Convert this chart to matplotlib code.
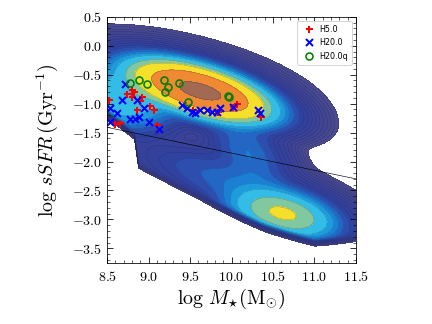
import numpy as np
import matplotlib
matplotlib.use("Agg")
import matplotlib.pyplot as plt
from matplotlib.ticker import MultipleLocator, FuncFormatter

plt.rcParams['mathtext.fontset'] = 'cm'

# ---- density model (Gaussian mixture) ----
comp_x = [9.62, 8.70, 10.20, 10.62, 10.30, 9.50, 9.90]
comp_y = [-0.78, -0.90, -1.85, -2.90, -2.58, -0.60, -2.28]
comp_su = [0.36, 0.30, 0.40, 0.30, 0.48, 0.52, 0.55]
comp_sv = [0.155, 0.24, 0.18, 0.17, 0.20, 0.22, 0.18]
comp_slope = [-0.47, -0.40, -2.50, -0.45, -0.50, -0.40, -0.48]
comp_w = [1.0, 0.03, 0.005, 0.08, 0.003, 0.002, 0.0025]

# lower edge of the distribution (density is cut off below it)
edge_x = [8.5, 8.7, 8.83, 8.88, 9.3, 9.8, 10.4, 11.0, 11.5]
edge_y = [-1.10, -1.35, -1.52, -2.05, -2.35, -2.70, -3.07, -3.35, -3.30]

# contour levels (fraction of peak) and fill colours
dark_levels = list(np.geomspace(5e-6, 1.5e-3, 11))
levels = dark_levels + [3e-3, 5e-3, 8e-3, 0.014, 0.034, 0.07, 0.22, 0.75, 1.2]
dark_cols = ['#4b4b8e', '#48498f', '#454791', '#424592', '#3f4494', '#3c4396',
             '#394298', '#36419a', '#33419d', '#3042a0']
band_cols = ['#2d4eae', '#2466c4', '#1b80d4', '#1e9bdc', '#33bde6',
             '#80c8a0', '#f4e02a', '#f08a32', '#a26a52']
colors = dark_cols + band_cols

# ---- scatter samples ----
h5_x = [8.52, 8.74, 8.80, 8.82, 8.92, 8.90, 9.02, 9.06, 8.86, 8.60, 8.66,
        9.10, 8.80, 10.36, 9.54, 9.84, 10.06, 10.02]
h5_y = [-0.94, -0.83, -0.885, -0.80, -0.885, -0.95, -1.045, -1.11, -1.11,
        -1.35, -1.33, -1.37, -0.77, -1.23, -1.11, -1.14, -1.00, -1.06]

h20_x = [8.72, 8.68, 8.86, 8.54, 8.62, 8.54, 8.78, 8.84, 8.88, 8.94, 9.00,
         9.12, 9.40, 9.46, 9.52, 9.56, 9.62, 9.70, 9.76, 9.82, 9.86, 10.02,
         10.32, 10.34]
h20_y = [-0.66, -0.94, -0.94, -1.08, -1.17, -1.31, -1.26, -1.26, -1.23,
         -1.08, -1.31, -1.43, -1.03, -1.08, -1.14, -1.17, -1.11, -1.11,
         -1.14, -1.14, -1.08, -1.06, -1.11, -1.17]

h20q_x = [8.78, 8.89, 8.98, 9.19, 9.23, 9.20, 9.37, 9.48, 9.96, 9.97]
h20q_y = [-0.64, -0.59, -0.66, -0.60, -0.71, -0.80, -0.645, -0.97, -0.86, -0.88]

cut_x = [8.5, 11.5]
cut_y = [-1.41, -2.30]

xticks = [8.5, 9.0, 9.5, 10.0, 10.5, 11.0, 11.5]
yticks = [0.5, 0.0, -0.5, -1.0, -1.5, -2.0, -2.5, -3.0, -3.5]

# ---- build grid ----
gx = np.linspace(8.5, 11.5, 500)
gy = np.linspace(-3.75, 0.5, 500)
X, Y = np.meshgrid(gx, gy)
Z = np.zeros_like(X)
for cx, cy, su, sv, sl, w in zip(comp_x, comp_y, comp_su, comp_sv, comp_slope, comp_w):
    th = np.arctan(sl)
    dx, dy = X - cx, Y - cy
    u = dx * np.cos(th) + dy * np.sin(th)
    v = -dx * np.sin(th) + dy * np.cos(th)
    Z += w * np.exp(-0.5 * (u**2 / su**2 + v**2 / sv**2))
d = Y - np.interp(X, edge_x, edge_y)
Z = Z / (1.0 + np.exp(-np.clip(d / 0.02, -60, 60)))
Z /= Z.max()

fig = plt.figure(figsize=(6, 4.5), dpi=72)
ax = fig.add_axes([0.248, 0.189, 0.576, 0.759])
ax.contourf(X, Y, Z, levels=levels, colors=colors)
ax.contour(X, Y, Z, levels=levels[:-1], colors='#1a1a40', linewidths=0.3, alpha=0.55)
ax.plot(cut_x, cut_y, color='black', lw=0.6)

ax.plot(h5_x, h5_y, '+', color='red', ms=7, mew=2, ls='none', label='H5.0')
ax.plot(h20_x, h20_y, 'x', color='blue', ms=7, mew=2, ls='none', label='H20.0')
ax.plot(h20q_x, h20q_y, 'o', mfc='none', mec='green', ms=7, mew=1.6, ls='none', label='H20.0q')

ax.set_xlim(8.5, 11.5)
ax.set_ylim(-3.75, 0.5)
ax.set_xticks(xticks)
ax.set_yticks(yticks)
ax.xaxis.set_minor_locator(MultipleLocator(0.1))
ax.yaxis.set_minor_locator(MultipleLocator(0.1))
fmt = FuncFormatter(lambda v, p: r'$%.1f$' % v)
ax.xaxis.set_major_formatter(fmt)
ax.yaxis.set_major_formatter(fmt)
ax.tick_params(which='both', direction='in', top=True, right=True, labelsize=14)
ax.tick_params(which='major', length=6, width=0.8)
ax.tick_params(which='minor', length=3, width=0.6)
ax.tick_params(axis='x', which='major', pad=7)
ax.tick_params(axis='y', which='major', pad=5)
ax.set_xlabel(r'$\log\,M_{\star}(\mathrm{M}_{\odot})$', fontsize=20, labelpad=3)
ax.set_ylabel(r'$\log\,sSFR\,(\mathrm{Gyr}^{-1})$', fontsize=20, labelpad=12)

ax.legend(loc='upper right', fontsize=8, handlelength=2.0, borderpad=0.5,
          labelspacing=0.55, handletextpad=0.3, markerscale=1.0)

fig.savefig('out.png', dpi=72)
